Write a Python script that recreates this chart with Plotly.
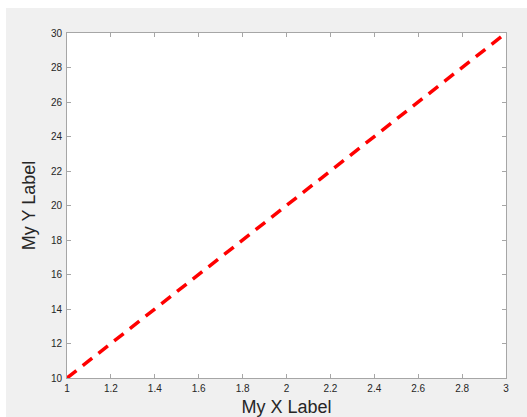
import plotly.graph_objects as go

x_vals = [1, 3]
y_vals = [10, 30]
x_ticks = [1, 1.2, 1.4, 1.6, 1.8, 2, 2.2, 2.4, 2.6, 2.8, 3]
x_tick_text = ["1", "1.2", "1.4", "1.6", "1.8", "2", "2.2", "2.4", "2.6", "2.8", "3"]
y_ticks = [10, 12, 14, 16, 18, 20, 22, 24, 26, 28, 30]
x_title = "My X Label"
y_title = "My Y Label"

W, H = 527, 417
L, R, T, B = 67, 21, 33, 39

fig = go.Figure()
fig.add_trace(go.Scatter(x=x_vals, y=y_vals, mode="lines",
                         line=dict(color="#ff0000", width=3.5, dash="12px,8px"),
                         showlegend=False, hoverinfo="skip"))

axis_common = dict(showgrid=False, zeroline=False, showline=True, linecolor="#a6a6a6",
                   linewidth=1, mirror="ticks", ticks="inside", ticklen=4, automargin=False,
                   tickcolor="#a6a6a6", tickfont=dict(family="Liberation Sans", size=10, color="#262626"))

fig.update_xaxes(range=[1, 3], tickvals=x_ticks, ticktext=x_tick_text, ticklabelstandoff=1,
                 title=dict(text=x_title, font=dict(family="Liberation Sans", size=18, color="#262626"), standoff=11),
                 **axis_common)
fig.update_yaxes(range=[10, 30], tickvals=y_ticks, ticklabelstandoff=2,
                 title=dict(text=y_title, font=dict(family="Liberation Sans", size=18, color="#262626"), standoff=10),
                 **axis_common)

pw = W - L - R
ph = H - T - B
# white border on the left and top of the window
fig.add_shape(type="rect", xref="paper", yref="paper", x0=-L/pw, x1=(-L+6)/pw, y0=-B/ph, y1=1+T/ph,
              fillcolor="white", line_width=0, layer="below")
fig.add_shape(type="rect", xref="paper", yref="paper", x0=-L/pw, x1=1+R/pw, y0=1+(T-8)/ph, y1=1+T/ph,
              fillcolor="white", line_width=0, layer="below")

fig.update_layout(width=W, height=H, margin=dict(l=L, r=R, t=T, b=B, autoexpand=False),
                  paper_bgcolor="#f0f0f0", plot_bgcolor="white",
                  font=dict(family="Liberation Sans"))

fig.write_html("out.html")
